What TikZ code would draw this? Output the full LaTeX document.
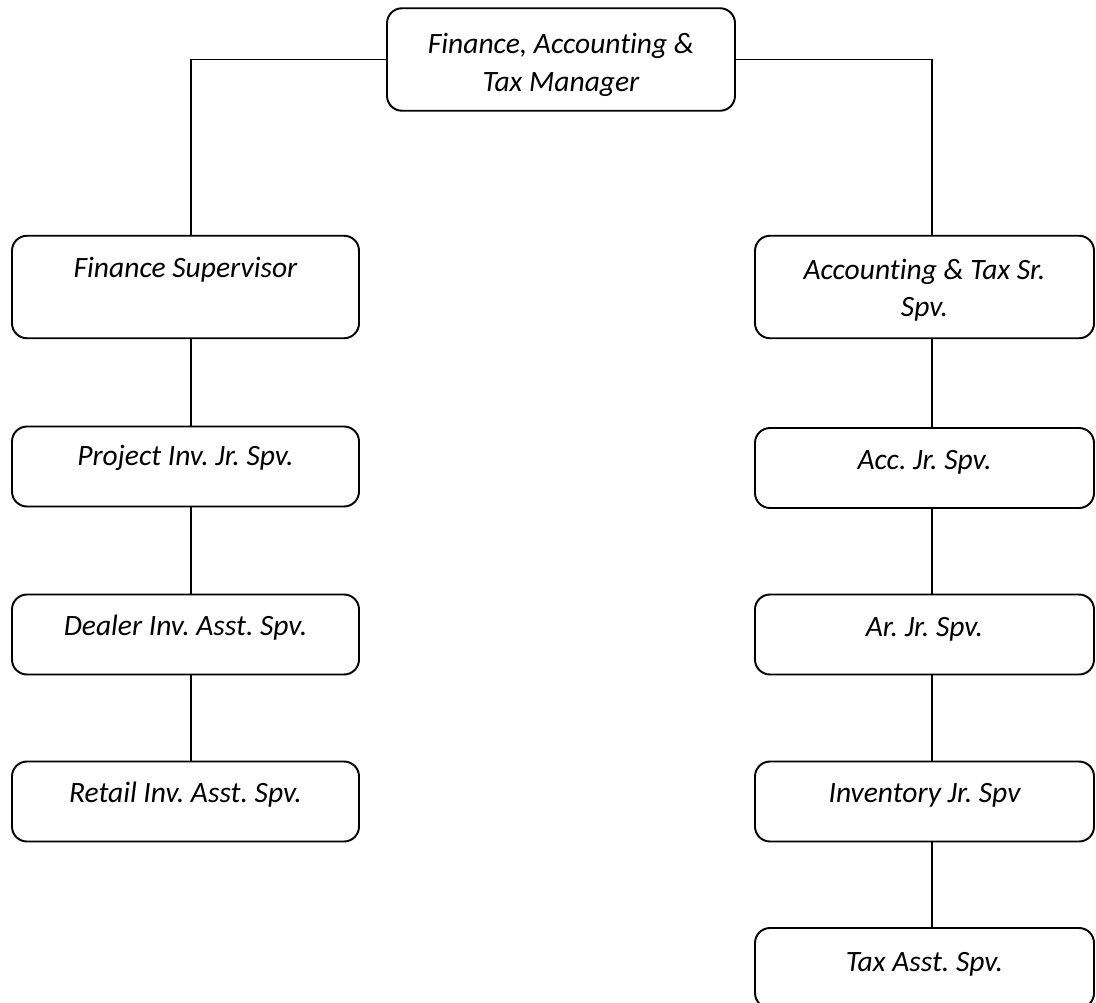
\documentclass[tikz,border=0pt]{standalone}
\usepackage{fontspec}
\setmainfont{Carlito}[Ligatures={NoCommon}]
\usepackage{tikz}

\begin{document}
\frenchspacing
\begin{tikzpicture}[
  orgbox/.style={draw, line width=1.1pt, rounded corners=0.3cm, inner sep=0pt, minimum height=1.6cm},
  lbox/.style={orgbox, minimum width=6.94cm},
  rbox/.style={orgbox, minimum width=6.78cm},
  tallbox/.style={minimum height=2.05cm},
  lbl/.style={anchor=base, inner sep=0pt, align=center, font=\fontsize{16.8}{21.5}\selectfont\itshape},
  link/.style={line width=0.8pt}
]
\useasboundingbox (0,0) rectangle (21.92,-20.04);

% manager
\node[orgbox, tallbox, minimum width=6.96cm] (mgr) at (11.22,-1.19) {};
\node[lbl] (mgrt) at ([yshift=-1.68cm]mgr.north) {Finance, Accounting \&\\Tax Manager};

% finance side
\node[lbox, tallbox] (fin) at (3.71,-5.74) {};
\node[lbl] (fint) at ([yshift=-0.85cm]fin.north) {Finance Supervisor};
\node[lbox] (proj) at (3.71,-9.33) {};
\node[lbl] (projt) at ([yshift=-0.8cm]proj.north) {Project Inv. Jr. Spv.};
\node[lbox] (deal) at (3.71,-12.69) {};
\node[lbl] (dealt) at ([yshift=-0.84cm]deal.north) {Dealer Inv. Asst. Spv.};
\node[lbox] (ret) at (3.71,-16.03) {};
\node[lbl] (rett) at ([yshift=-0.84cm]ret.north) {Retail Inv. Asst. Spv.};

% accounting side
\node[rbox, tallbox] (acct) at (18.49,-5.74) {};
\node[lbl] (acctt) at ([yshift=-1.64cm]acct.north) {Accounting \& Tax Sr.\\Spv.};
\node[rbox] (accj) at (18.49,-9.36) {};
\node[lbl] (accjt) at ([yshift=-0.84cm]accj.north) {Acc. Jr. Spv.};
\node[rbox] (arj) at (18.49,-12.69) {};
\node[lbl] (arjt) at ([yshift=-0.85cm]arj.north) {Ar. Jr. Spv.};
\node[rbox] (invj) at (18.49,-16.03) {};
\node[lbl] (invjt) at ([yshift=-0.84cm]invj.north) {Inventory Jr. Spv};
\node[rbox] (taxa) at (18.49,-19.36) {};
\node[lbl] (taxat) at ([yshift=-0.88cm]taxa.north) {Tax Asst. Spv.};

\coordinate (lcol) at (3.82,0);
\coordinate (rcol) at (18.64,0);

\draw[link] (mgr.west) -| (lcol |- fin.north);
\draw[link] (mgr.east) -| (rcol |- acct.north);
\draw[link] (lcol |- fin.south) -- (lcol |- proj.north);
\draw[link] (lcol |- proj.south) -- (lcol |- deal.north);
\draw[link] (lcol |- deal.south) -- (lcol |- ret.north);
\draw[link] (rcol |- acct.south) -- (rcol |- accj.north);
\draw[link] (rcol |- accj.south) -- (rcol |- arj.north);
\draw[link] (rcol |- arj.south) -- (rcol |- invj.north);
\draw[link] (rcol |- invj.south) -- (rcol |- taxa.north);
\end{tikzpicture}
\end{document}
